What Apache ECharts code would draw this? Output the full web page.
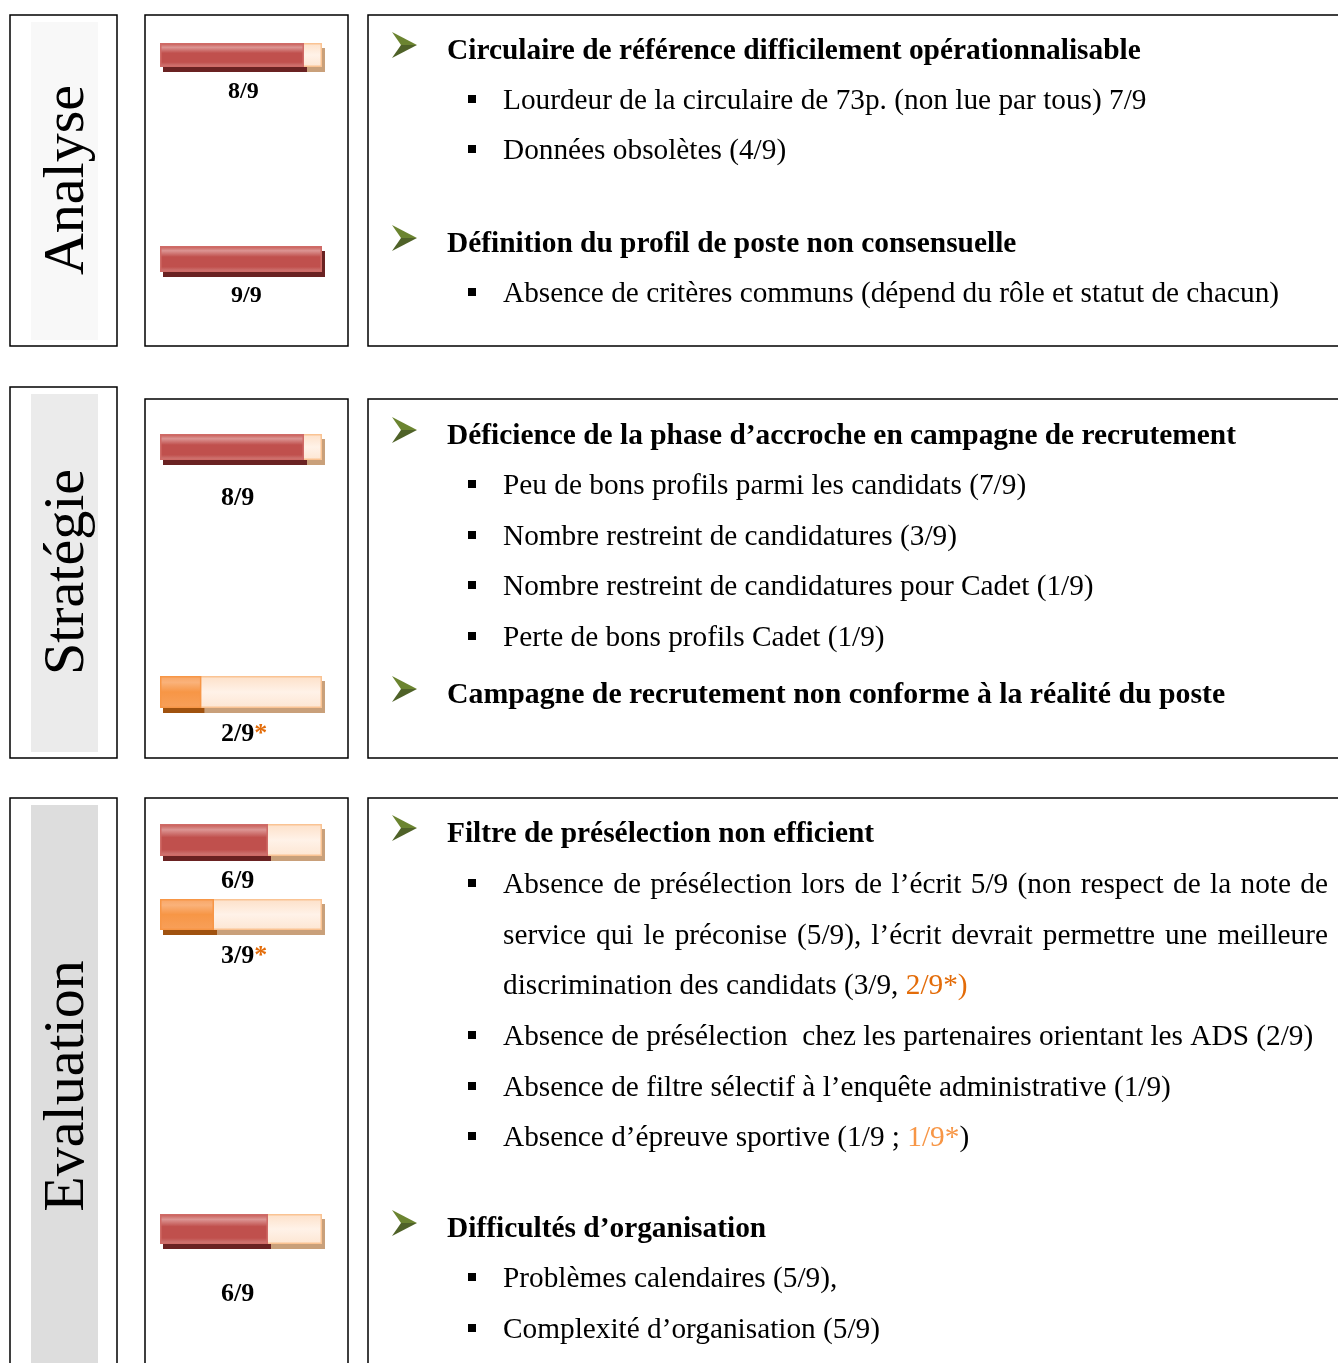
<!DOCTYPE html>
<html><head><meta charset="utf-8">
<script src="https://cdn.jsdelivr.net/npm/echarts@6/dist/echarts.min.js"></script>
<style>html,body{margin:0;padding:0;background:#fff}#c{width:1338px;height:1363px}</style>
</head><body><div id="c"></div>
<script>
// ---------- DATA ----------
const sections = ['Analyse', 'Stratégie', 'Evaluation'];
const barValues = [8, 9, 8, 2.3, 6, 3, 6];
const barMax = 9;
const barKinds = ['red', 'red', 'red', 'orange', 'red', 'orange', 'red'];
const barLabels = ['8/9', '9/9', '8/9', '2/9', '6/9', '3/9', '6/9'];
const barStars = [false, false, false, true, false, true, false];

const analyseItems = [
  ['h', 'Circulaire de référence difficilement opérationnalisable'],
  ['b', 'Lourdeur de la circulaire de 73p. (non lue par tous) 7/9'],
  ['b', 'Données obsolètes (4/9)'],
  ['h', 'Définition du profil de poste non consensuelle'],
  ['b', 'Absence de critères communs (dépend du rôle et statut de chacun)']
];
const strategieItems = [
  ['h', 'Déficience de la phase d’accroche en campagne de recrutement'],
  ['b', 'Peu de bons profils parmi les candidats (7/9)'],
  ['b', 'Nombre restreint de candidatures (3/9)'],
  ['b', 'Nombre restreint de candidatures pour Cadet (1/9)'],
  ['b', 'Perte de bons profils Cadet (1/9)'],
  ['H', 'Campagne de recrutement non conforme à la réalité du poste']
];
const evaluationItems = [
  ['h', 'Filtre de présélection non efficient'],
  ['bj', 'Absence de présélection lors de l’écrit 5/9 (non respect de la note de'],
  ['cj', 'service qui le préconise (5/9), l’écrit devrait permettre une meilleure'],
  ['c', 'discrimination des candidats (3/9, {o|2/9*)}'],
  ['b', 'Absence de présélection  chez les partenaires orientant les ADS (2/9)'],
  ['b', 'Absence de filtre sélectif à l’enquête administrative (1/9)'],
  ['b', 'Absence d’épreuve sportive (1/9 ; {p|1/9*})'],
  ['h', 'Difficultés d’organisation'],
  ['b', 'Problèmes calendaires (5/9),'],
  ['b', 'Complexité d’organisation (5/9)']
];

// ---------- LAYOUT ----------
const analyseY = [50, 100, 150, 243, 293];
const strategieY = [435, 485, 536, 586, 637, 694];
const evaluationY = [833, 884, 935, 985, 1036, 1087, 1137, 1228, 1278, 1329];
const sectionBoxes = [ // [labelTop, barTop, bottom]
  [15, 15, 346],
  [387, 399, 758],
  [798, 798, 1400]
];
const labelFills = ['#f8f8f8', '#ebebeb', '#dddddd'];
const labelCenterY = [180, 572, 1086];
const barTops = [43, 246, 434, 676, 824, 899, 1214];
const barHeights = [24, 26, 26, 32, 32, 31, 30];
const labelY = [92, 296, 498, 734, 881, 956, 1294];
const labelX = [228, 231, 221, 221, 221, 221, 221];
const labelSize = [24, 24, 26, 26, 26, 26, 26];

const FONT = 'Liberation Serif';
const TXT = 29.3, HEAD = 29.4, HEAD2 = 29.8;
const BAR_LEFT = 160, BAR_W = 162;
const cv = document.createElement('canvas').getContext('2d');
function tw(t, size, weight) {
  cv.font = (weight || 'normal') + ' ' + size + 'px "' + FONT + '"';
  return cv.measureText(t).width;
}

const graphic = [];
function box(x, y, w, h) {
  graphic.push({type: 'rect', shape: {x: x, y: y, width: w, height: h}, style: {fill: 'none', stroke: '#000', lineWidth: 1.5}, z: 10});
}
function text(x, y, t, size, weight, extra) {
  graphic.push(Object.assign({
    type: 'text', x: x, y: y + 1.5, z: 20,
    style: {
      text: t, fontFamily: FONT, fontSize: size, fontWeight: weight || 'normal', fill: '#000',
      align: 'left', verticalAlign: 'middle', textAlign: 'left', textVerticalAlign: 'middle',
      rich: {
        o: {fill: '#e36c09', fontFamily: FONT, fontSize: size},
        p: {fill: '#f79646', fontFamily: FONT, fontSize: size}
      }
    }
  }, extra || {}));
}
function arrow(y) {
  graphic.push({type: 'polygon', x: 392, y: y, z: 20, shape: {points: [[0, -13], [25, 0], [9, 0]]}, style: {fill: '#6b8430'}});
  graphic.push({type: 'polygon', x: 392, y: y, z: 20, shape: {points: [[9, 0], [25, 0], [0, 13]]}, style: {fill: '#4f6228'}});
}
function bullet(y) {
  graphic.push({type: 'rect', z: 20, shape: {x: 468, y: y - 4, width: 8, height: 8}, style: {fill: '#000'}});
}
function justified(y, line, x0, x1, size) {
  const words = line.split(' ');
  const widths = words.map(w => tw(w, size));
  const total = widths.reduce((a, b) => a + b, 0);
  const gap = (x1 - x0 - total) / (words.length - 1);
  let x = x0;
  words.forEach((w, i) => { text(x, y, w, size); x += widths[i] + gap; });
}
function drawItems(items, ys) {
  items.forEach((it, i) => {
    const k = it[0], t = it[1], y = ys[i];
    if (k === 'h' || k === 'H') {
      arrow(y - 5);
      text(447, y, t, k === 'H' ? HEAD2 : HEAD, 'bold');
    } else {
      if (k === 'b' || k === 'bj') bullet(y - 1);
      if (k === 'bj' || k === 'cj') justified(y, t, 503, 1328, TXT);
      else text(503, y, t, TXT);
    }
  });
}

// boxes + section labels
sections.forEach((s, i) => {
  const b = sectionBoxes[i];
  graphic.push({type: 'rect', z: 5, shape: {x: 31, y: b[0] + 7, width: 67, height: b[2] - b[0] - 13}, style: {fill: labelFills[i]}});
  box(10, b[0], 107, b[2] - b[0]);
  box(145, b[1], 203, b[2] - b[1]);
  box(368, b[1], 1000, b[2] - b[1]);
  graphic.push({
    type: 'text', x: 68, y: labelCenterY[i], rotation: Math.PI / 2, z: 20,
    style: {text: s, fontFamily: FONT, fontSize: 58, fill: '#000', align: 'center', verticalAlign: 'middle', textAlign: 'center', textVerticalAlign: 'middle'}
  });
});
drawItems(analyseItems, analyseY);
drawItems(strategieItems, strategieY);
drawItems(evaluationItems, evaluationY);

// ---------- BARS ----------
const G = echarts.graphic.LinearGradient;
const styles = {
  red: {
    fill: new G(0, 0, 0, 1, [{offset: 0, color: '#c4554f'}, {offset: 0.18, color: '#dc9593'}, {offset: 0.42, color: '#c0504d'}, {offset: 0.8, color: '#c0504d'}, {offset: 1, color: '#d2807d'}]),
    border: '#cf6b67', shadow: '#6a2222'
  },
  orange: {
    fill: new G(0, 0, 0, 1, [{offset: 0, color: '#f8a564'}, {offset: 0.2, color: '#fab27a'}, {offset: 0.5, color: '#f79646'}, {offset: 1, color: '#f8a05a'}]),
    border: '#f79646', shadow: '#a0520f'
  }
};
const trackFill = new G(0, 0, 0, 1, [{offset: 0, color: '#fde0c8'}, {offset: 0.5, color: '#fff2e8'}, {offset: 1, color: '#fde6d3'}]);

const grids = [], xAxes = [], yAxes = [], series = [];
barValues.forEach((v, i) => {
  const h = barHeights[i];
  grids.push({left: BAR_LEFT, top: barTops[i], width: BAR_W, height: h});
  xAxes.push({type: 'value', gridIndex: i, min: 0, max: barMax, show: false});
  yAxes.push({type: 'category', gridIndex: i, data: [''], show: false});
  const st = styles[barKinds[i]];
  const common = {type: 'bar', xAxisIndex: i, yAxisIndex: i, barWidth: h, barGap: '-100%', silent: true, animation: false};
  series.push(Object.assign({}, common, {data: [barMax], z: 1,
    itemStyle: {color: '#fde6d3', shadowColor: '#c9a07a', shadowOffsetX: 3, shadowOffsetY: 5, shadowBlur: 0}}));
  series.push(Object.assign({}, common, {data: [v], z: 2,
    itemStyle: {color: st.border, shadowColor: st.shadow, shadowOffsetX: 3, shadowOffsetY: 5, shadowBlur: 0}}));
  series.push(Object.assign({}, common, {z: 3,
    data: [{value: barMax, label: {
      show: true, position: [labelX[i] - BAR_LEFT, labelY[i] - barTops[i]], align: 'left', verticalAlign: 'middle',
      formatter: '{a|' + barLabels[i] + '}' + (barStars[i] ? '{s|*}' : ''),
      rich: {
        a: {fontFamily: FONT, fontWeight: 'bold', fontSize: labelSize[i], color: '#000'},
        s: {fontFamily: FONT, fontWeight: 'bold', fontSize: labelSize[i], color: '#e36c09'}
      }
    }}],
    itemStyle: {color: trackFill, borderColor: '#fac393', borderWidth: 1.5}}));
  series.push(Object.assign({}, common, {data: [v], z: 4,
    itemStyle: {color: st.fill, borderColor: st.border, borderWidth: 1.5}}));
});

const chart = echarts.init(document.getElementById('c'), null, {renderer: 'canvas'});
chart.setOption({
  animation: false,
  grid: grids, xAxis: xAxes, yAxis: yAxes, series: series,
  graphic: graphic
});
</script></body></html>
